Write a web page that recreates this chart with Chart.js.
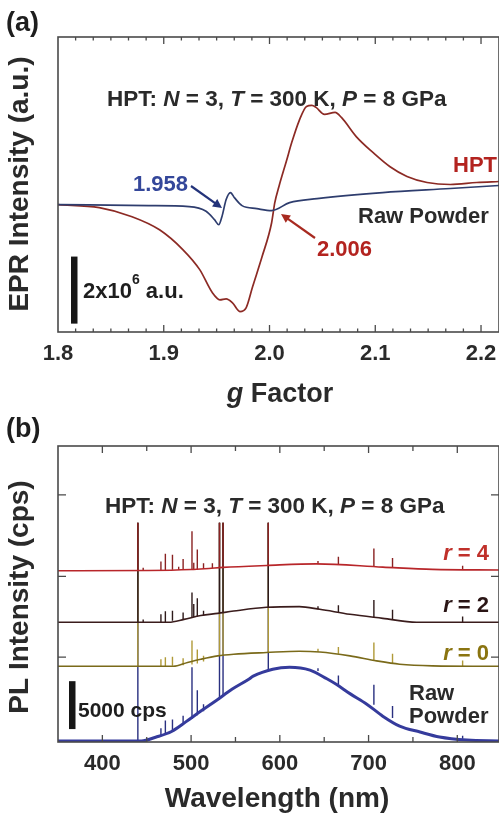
<!DOCTYPE html>
<html>
<head>
<meta charset="utf-8">
<script src="https://cdn.jsdelivr.net/npm/chart.js@4.4.0/dist/chart.umd.min.js"></script>
<style>
  html, body { margin: 0; padding: 0; background: #fff; }
  #wrap { position: relative; width: 499px; height: 814px; overflow: hidden; }
  .box { position: absolute; left: 0; width: 499px; }
</style>
</head>
<body>
<div id="wrap">
  <div class="box" style="top:0;height:410px"><canvas id="epr"></canvas></div>
  <div class="box" style="top:410px;height:404px"><canvas id="pl"></canvas></div>
</div>
<script>
// ---- (a) EPR data (intensity in units of 1e6 a.u.) ----
const eprTickLabels = [1.8, 1.9, 2.0, 2.1, 2.2];
const hptG = [1.800, 1.839, 1.870, 1.896, 1.918, 1.934, 1.946, 1.953, 1.959, 1.965, 1.972, 1.978, 1.984, 1.993, 2.002, 2.005, 2.009, 2.016, 2.021, 2.028, 2.035, 2.040, 2.044, 2.052, 2.062, 2.068, 2.082, 2.098, 2.114, 2.130, 2.149, 2.171, 2.196, 2.217];
const hptEpr = [0, -0.09, -0.36, -0.75, -1.34, -1.94, -2.63, -2.84, -2.81, -2.93, -3.19, -3.07, -2.45, -1.55, -0.54, 0.06, 0.55, 1.30, 1.85, 2.50, 2.93, 2.96, 2.90, 2.69, 2.75, 2.60, 2.03, 1.55, 1.13, 0.84, 0.66, 0.60, 0.66, 0.69];
const rawG = [1.800, 1.886, 1.924, 1.940, 1.948, 1.952, 1.955, 1.959, 1.963, 1.967, 1.974, 1.988, 2.002, 2.019, 2.045, 2.107, 2.171, 2.217];
const rawEpr = [0, -0.03, -0.06, -0.20, -0.45, -0.60, -0.36, 0.15, 0.36, 0.20, -0.03, -0.12, -0.18, 0.06, 0.18, 0.36, 0.48, 0.57];
const eprScaleBar = [-3.55, -1.55];

// ---- (b) PL data (cps) ----
const plTickLabels = [400, 500, 600, 700, 800];
const plYTicks = [8750, 17200, 25700];
const rawWl = [350, 444, 460, 478, 494, 509, 528, 546, 565, 570, 592, 611, 634, 653, 664, 679, 698, 716, 735, 758, 780, 811, 847];
const rawPl = [0, 0, 400, 1000, 2000, 3000, 4200, 5400, 6450, 6770, 7500, 7700, 7400, 6500, 5900, 4950, 3850, 2600, 1560, 940, 420, 100, 0];
const r0Wl = [350, 480, 496, 511, 530, 548, 585, 622, 645, 679, 709, 735, 772, 847];
const r0Pl = [7800, 7800, 8200, 8540, 8890, 9060, 9240, 9380, 9300, 8890, 8370, 8020, 7850, 7800];
const r2Wl = [350, 475, 492, 511, 530, 548, 585, 622, 645, 679, 716, 754, 847];
const r2Pl = [12400, 12400, 12700, 13100, 13330, 13570, 13960, 14030, 13750, 13230, 12810, 12400, 12400];
const r4Wl = [350, 452, 500, 520, 536, 585, 641, 716, 772, 847];
const r4Pl = [17780, 17800, 17900, 18020, 18130, 18330, 18500, 18160, 17920, 17850];
// sharp lines: [wavelength, bottom, top]
const rawSpikes = [[440, 0, 22800], [466, 600, 1330], [471, 800, 2150], [479, 1100, 2250], [491, 1700, 2640], [501, 2300, 7700], [507, 2700, 5300], [514, 3100, 3830], [532, 4500, 22800], [536, 4700, 22800], [587, 7400, 22800], [643, 7300, 7600], [666, 5800, 6850], [706, 3800, 5880], [727, 2400, 3650], [806, 250, 560]];
const r0Spikes = [[440, 7800, 22800], [466, 7800, 8530], [471, 7800, 8740], [479, 7850, 8790], [491, 7900, 8630], [501, 8000, 10500], [507, 8100, 9560], [514, 8300, 8900], [532, 8950, 22800], [536, 8980, 22800], [587, 9260, 22800], [643, 9320, 9630], [666, 9100, 9830], [706, 8420, 10300], [727, 8080, 9100], [806, 7800, 8400]];
const r2Spikes = [[440, 12400, 22800], [446, 12400, 12700], [466, 12400, 13230], [471, 12400, 13550], [479, 12550, 13600], [491, 12700, 13430], [501, 12900, 15500], [503, 12950, 14300], [507, 13000, 14900], [514, 13100, 13600], [532, 13400, 22800], [536, 13450, 22800], [587, 13980, 22800], [643, 13760, 14070], [666, 13450, 14180], [706, 12950, 14720], [727, 12650, 13700], [806, 12400, 13000]];
const r4Spikes = [[440, 17800, 22800], [446, 17800, 18100], [466, 17850, 18750], [471, 17850, 19550], [479, 17880, 19450], [486, 17890, 18200], [491, 17890, 19000], [501, 17900, 21900], [503, 17900, 18600], [507, 17920, 20000], [514, 17970, 18550], [524, 18050, 18550], [532, 18120, 22800], [536, 18140, 22800], [587, 18350, 22800], [643, 18500, 18800], [666, 18400, 19250], [706, 18220, 20100], [727, 18100, 19100], [806, 17880, 18300]];
const plScaleBar = [1250, 6250];

const FAM = '"Liberation Sans", Arial, sans-serif';
const font = (size, italic) => (italic ? 'italic ' : '') + 'bold ' + size + 'px ' + FAM;
const pts = (xs, ys) => xs.map((x, i) => ({ x: x, y: ys[i] }));
function spikePts(list) {
  const out = [];
  list.forEach(s => { out.push({ x: s[0], y: s[1] }, { x: s[0], y: s[2] }, { x: s[0], y: null }); });
  return out;
}

function rich(ctx, parts, x, y, size, color, align) {
  let w = 0;
  parts.forEach(p => { ctx.font = font(p[2] || size, p[1]); w += ctx.measureText(p[0]).width; });
  let cx = align === 'center' ? x - w / 2 : align === 'right' ? x - w : x;
  ctx.fillStyle = color;
  ctx.textAlign = 'left';
  ctx.textBaseline = 'alphabetic';
  parts.forEach(p => {
    ctx.font = font(p[2] || size, p[1]);
    ctx.fillText(p[0], cx, y + (p[3] || 0));
    cx += ctx.measureText(p[0]).width;
  });
}

function arrow(ctx, x1, y1, x2, y2, color) {
  const ang = Math.atan2(y2 - y1, x2 - x1);
  const hl = 9, hw = 4.5;
  ctx.strokeStyle = color; ctx.fillStyle = color; ctx.lineWidth = 2.2;
  ctx.beginPath();
  ctx.moveTo(x1, y1);
  ctx.lineTo(x2 - hl * 0.8 * Math.cos(ang), y2 - hl * 0.8 * Math.sin(ang));
  ctx.stroke();
  ctx.beginPath();
  ctx.moveTo(x2, y2);
  ctx.lineTo(x2 - hl * Math.cos(ang) + hw * Math.sin(ang), y2 - hl * Math.sin(ang) - hw * Math.cos(ang));
  ctx.lineTo(x2 - hl * Math.cos(ang) - hw * Math.sin(ang), y2 - hl * Math.sin(ang) + hw * Math.cos(ang));
  ctx.closePath();
  ctx.fill();
}

// frame + inward ticks, then annotations
const framePlugin = {
  id: 'frame',
  afterDraw(chart, args, o) {
    const { ctx, chartArea: a, scales: { x, y } } = chart;
    ctx.save();
    ctx.strokeStyle = '#4a4a4a';
    ctx.lineWidth = 1.6;
    ctx.strokeRect(a.left, a.top, a.right - a.left, a.bottom - a.top);
    ctx.lineWidth = 1.3;
    o.xTicks.forEach(t => {
      const px = x.getPixelForValue(t[0]);
      if (px < a.left + 1 || px > a.right - 1) return;
      ctx.beginPath();
      ctx.moveTo(px, a.bottom); ctx.lineTo(px, a.bottom - t[1]);
      ctx.moveTo(px, a.top); ctx.lineTo(px, a.top + t[1]);
      ctx.stroke();
    });
    (o.yTicks || []).forEach(v => {
      const py = y.getPixelForValue(v);
      ctx.beginPath();
      ctx.moveTo(a.left, py); ctx.lineTo(a.left + 8, py);
      ctx.moveTo(a.right, py); ctx.lineTo(a.right - 8, py);
      ctx.stroke();
    });
    // scale bar
    ctx.fillStyle = '#161616';
    const b1 = y.getPixelForValue(o.bar[0]), b2 = y.getPixelForValue(o.bar[1]);
    ctx.fillRect(o.barX - 3, b2, 6.5, b1 - b2);
    o.draw(ctx, chart);
    ctx.restore();
  }
};

function yTitle(ctx, text, x, y, size) {
  ctx.save();
  ctx.translate(x, y);
  ctx.rotate(-Math.PI / 2);
  ctx.font = font(size, false);
  ctx.fillStyle = '#2a2a2a';
  ctx.textAlign = 'center';
  ctx.textBaseline = 'middle';
  ctx.fillText(text, 0, 0);
  ctx.restore();
}

const eprMinor = [];
for (let k = 0; k <= 25; k++) eprMinor.push([1.8 + k * 0.1 / 6, k % 6 === 0 ? 7 : 3.5]);
const plMinor = [];
for (let w = 350; w <= 850; w += 50) plMinor.push([w, w % 100 === 0 ? 7 : 5]);

const fixWidth = w => s => { s.width = w; s.paddingLeft = 0; s.paddingRight = 0; s.paddingTop = 0; s.paddingBottom = 0; };
const fixHeight = h => s => { s.height = h; s.paddingLeft = 0; s.paddingRight = 0; s.paddingTop = 0; s.paddingBottom = 0; };

const tickFont = { family: FAM, size: 22, weight: 'bold' };
const baseOpts = {
  responsive: true,
  maintainAspectRatio: false,
  animation: false,
  events: [],
  devicePixelRatio: 1,
  plugins: { legend: { display: false }, tooltip: { enabled: false } },
  elements: { point: { radius: 0 } }
};

new Chart(document.getElementById('epr'), {
  type: 'line',
  data: {
    datasets: [
      { data: pts(rawG, rawEpr), borderColor: '#2e3d6e', borderWidth: 1.7, cubicInterpolationMode: 'monotone' },
      { data: pts(hptG, hptEpr), borderColor: '#8c2a24', borderWidth: 1.7, cubicInterpolationMode: 'monotone' }
    ]
  },
  options: Object.assign({}, baseOpts, {
    layout: { padding: { top: 37, left: 0, right: 0, bottom: 0 } },
    scales: {
      x: {
        type: 'linear', min: 1.8, max: 2.217, bounds: 'data',
        afterBuildTicks: s => { s.ticks = eprTickLabels.map(v => ({ value: v })); },
        ticks: { padding: 9, font: tickFont, color: '#2a2a2a', maxRotation: 0, autoSkip: false, callback: v => v.toFixed(1) },
        grid: { display: false, drawTicks: false }, border: { display: false },
        afterFit: fixHeight(78)
      },
      y: {
        type: 'linear', min: -3.8, max: 5.0,
        ticks: { display: false }, grid: { display: false, drawTicks: false }, border: { display: false },
        afterFit: fixWidth(58)
      }
    },
    plugins: Object.assign({}, baseOpts.plugins, {
      frame: {
        xTicks: eprMinor, bar: eprScaleBar, barX: 74,
        draw(ctx) {
          rich(ctx, [['(a)', false]], 6, 31, 27, '#1e1e1e', 'left');
          rich(ctx, [['HPT: ', false], ['N', true], [' = 3, ', false], ['T', true], [' = 300 K, ', false], ['P', true], [' = 8 GPa', false]], 107, 106, 22.5, '#2a2a2a', 'left');
          rich(ctx, [['HPT', false]], 497, 172, 22, '#b3231f', 'right');
          rich(ctx, [['1.958', false]], 133, 191, 22, '#34479a', 'left');
          rich(ctx, [['Raw Powder', false]], 358, 223, 22, '#2a2a2a', 'left');
          rich(ctx, [['2.006', false]], 317, 256, 22, '#b3231f', 'left');
          rich(ctx, [['2x10', false], ['6', false, 14, -14], [' a.u.', false]], 83, 298, 22, '#1e1e1e', 'left');
          arrow(ctx, 191, 186, 222, 208, '#23337a');
          arrow(ctx, 315, 238, 281, 214, '#a82a20');
          rich(ctx, [['g', true], [' Factor', false]], 280, 402, 27, '#2a2a2a', 'center');
          yTitle(ctx, 'EPR Intensity (a.u.)', 20, 184, 28);
        }
      }
    })
  }),
  plugins: [framePlugin]
});

new Chart(document.getElementById('pl'), {
  type: 'line',
  data: {
    datasets: [
      { data: pts(r4Wl, r4Pl), borderColor: '#b8262a', borderWidth: 1.6, cubicInterpolationMode: 'monotone' },
      { data: spikePts(r4Spikes), borderColor: '#8a2222', borderWidth: 1.4, spanGaps: false },
      { data: pts(r2Wl, r2Pl), borderColor: '#3a1c1c', borderWidth: 1.6, cubicInterpolationMode: 'monotone' },
      { data: spikePts(r2Spikes), borderColor: '#2e1a1a', borderWidth: 1.4, spanGaps: false },
      { data: pts(r0Wl, r0Pl), borderColor: '#7a6a1a', borderWidth: 1.6, cubicInterpolationMode: 'monotone' },
      { data: spikePts(r0Spikes), borderColor: '#b09a38', borderWidth: 1.4, spanGaps: false },
      { data: pts(rawWl, rawPl), borderColor: '#353b9c', borderWidth: 3, cubicInterpolationMode: 'monotone' },
      { data: spikePts(rawSpikes), borderColor: '#2a3080', borderWidth: 1.4, spanGaps: false }
    ]
  },
  options: Object.assign({}, baseOpts, {
    layout: { padding: { top: 36, left: 0, right: 0, bottom: 0 } },
    scales: {
      x: {
        type: 'linear', min: 350, max: 847, bounds: 'data',
        afterBuildTicks: s => { s.ticks = plTickLabels.map(v => ({ value: v })); },
        ticks: { padding: 9, font: tickFont, color: '#2a2a2a', maxRotation: 0, autoSkip: false },
        grid: { display: false, drawTicks: false }, border: { display: false },
        afterFit: fixHeight(72)
      },
      y: {
        type: 'linear', min: -100, max: 30800,
        ticks: { display: false }, grid: { display: false, drawTicks: false }, border: { display: false },
        afterFit: fixWidth(58)
      }
    },
    plugins: Object.assign({}, baseOpts.plugins, {
      frame: {
        xTicks: plMinor, yTicks: plYTicks, bar: plScaleBar, barX: 72,
        draw(ctx) {
          rich(ctx, [['(b)', false]], 6, 27, 27, '#1e1e1e', 'left');
          rich(ctx, [['HPT: ', false], ['N', true], [' = 3, ', false], ['T', true], [' = 300 K, ', false], ['P', true], [' = 8 GPa', false]], 105, 103, 22.5, '#2a2a2a', 'left');
          rich(ctx, [['r', true], [' = 4', false]], 489, 150, 22, '#c0302a', 'right');
          rich(ctx, [['r', true], [' = 2', false]], 489, 202, 22, '#2a1515', 'right');
          rich(ctx, [['r', true], [' = 0', false]], 489, 250, 22, '#8a7410', 'right');
          rich(ctx, [['Raw', false]], 409, 290, 22, '#2a2a2a', 'left');
          rich(ctx, [['Powder', false]], 409, 313, 22, '#2a2a2a', 'left');
          rich(ctx, [['5000 cps', false]], 78, 307, 21, '#1e1e1e', 'left');
          rich(ctx, [['Wavelength (nm)', false]], 277, 397, 28, '#2a2a2a', 'center');
          yTitle(ctx, 'PL Intensity (cps)', 20, 187, 28);
        }
      }
    })
  }),
  plugins: [framePlugin]
});
</script>
</body>
</html>
